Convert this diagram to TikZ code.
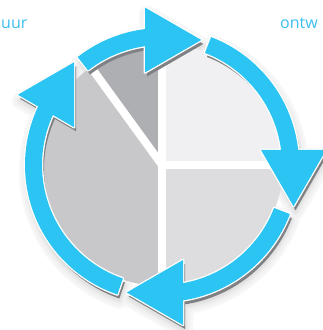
\documentclass[tikz,border=0pt]{standalone}
\usepackage{fontspec}
\setmainfont{Open Sans}
\definecolor{ringblue}{RGB}{44,196,242}
\definecolor{textblue}{RGB}{60,190,240}
\definecolor{pieA}{RGB}{240,240,242}
\definecolor{pieB}{RGB}{221,221,223}
\definecolor{pieC}{RGB}{200,200,202}
\definecolor{pieD}{RGB}{174,175,178}
\definecolor{extr}{RGB}{128,129,132}
\def\band#1#2{(#1:137) arc[start angle=#1,end angle=#2,radius=137] -- (#2:120) arc[start angle=#2,end angle=#1,radius=120] -- cycle}
\def\bandA{\band{128}{94}}
\def\bandB{\band{69}{3}}
\def\bandC{\band{-21}{-86}}
\def\bandD{\band{251}{150}}
\def\headA{(-17,92.5) -- (-17,157.5) -- (39.3,125) -- cycle}
\def\headB{(99,15) -- (164,15) -- (131.5,-41.3) -- cycle}
\def\headC{(21,-160) -- (21,-95) -- (-35.3,-127.5) -- cycle}
\def\headD{(-87.9,37.75) -- (-144.1,70.25) -- (-87.8,102.8) -- cycle}
\tikzset{
  softsh/.style={draw=#1, fill=#1, line join=round},
  extrusion/.style={fill=extr, shift={(2,-4)}},
  outline/.style={draw=white, line width=2.6, line join=round},
  bluefill/.style={fill=ringblue},
  gap/.style={draw=white, line width=8},
  label/.style={text=textblue, inner sep=0pt, font=\fontsize{16}{19}\selectfont}
}
\begin{document}
\begin{tikzpicture}[x=1pt,y=1pt]
\useasboundingbox (0,0) rectangle (323,330);
\fill[white] (0,0) rectangle (323,330);
\begin{scope}[shift={(162,165)}]
  % soft outer shadow
  \foreach \w/\c in {16/black!3, 11/black!5, 6/black!8, 2/black!11}{
    \begin{scope}[shift={(2,-6)}]
      \path[softsh=\c, line width=\w] \bandA;
      \path[softsh=\c, line width=\w] \bandB;
      \path[softsh=\c, line width=\w] \bandC;
      \path[softsh=\c, line width=\w] \bandD;
      \path[softsh=\c, line width=\w] \headA;
      \path[softsh=\c, line width=\w] \headB;
      \path[softsh=\c, line width=\w] \headC;
      \path[softsh=\c, line width=\w] \headD;
    \end{scope}
  }
  % pie
  \fill[pieA] (0,0) -- (0:121) arc[start angle=0,end angle=90,radius=121] -- cycle;
  \fill[pieD] (0,0) -- (90:121) arc[start angle=90,end angle=126,radius=121] -- cycle;
  \fill[pieC] (0,0) -- (126:121) arc[start angle=126,end angle=270,radius=121] -- cycle;
  \fill[pieB] (0,0) -- (270:121) arc[start angle=270,end angle=360,radius=121] -- cycle;
  \path[gap] (0,-125) -- (0,125);
  \path[gap] (0,0) -- (125,0);
  \path[gap] (0,0) -- (126:125);
  % extrusion shadows
  \path[extrusion] \bandA; \path[extrusion] \bandB; \path[extrusion] \bandC; \path[extrusion] \bandD;
  \path[extrusion] \headA; \path[extrusion] \headB; \path[extrusion] \headC; \path[extrusion] \headD;
  % white outlines
  \path[outline] \bandA; \path[outline] \bandB; \path[outline] \bandC; \path[outline] \bandD;
  \path[outline] \headA; \path[outline] \headB; \path[outline] \headC; \path[outline] \headD;
  % blue fills
  \path[bluefill] \bandA; \path[bluefill] \bandB; \path[bluefill] \bandC; \path[bluefill] \bandD;
  \path[bluefill] \headA; \path[bluefill] \headB; \path[bluefill] \headC; \path[bluefill] \headD;
\end{scope}
\node[label, anchor=base west] (tleft) at (1,301) {uur};
\node[label, anchor=base west] (tright) at (280,301) {ontw};
\end{tikzpicture}
\end{document}
